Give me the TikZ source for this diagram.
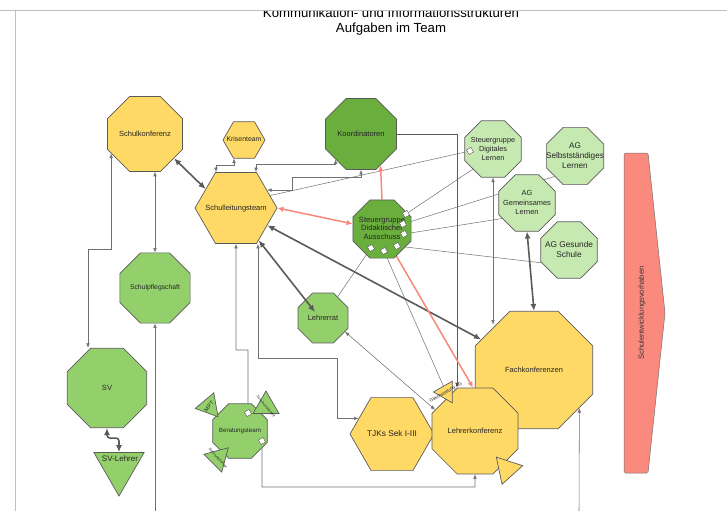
\documentclass[tikz,border=0pt]{standalone}
\usepackage{fontspec}
\setmainfont{Liberation Sans}
\usepackage{graphicx}
\usetikzlibrary{shapes.geometric,arrows.meta,calc}

\definecolor{cyel}{HTML}{FFD966}
\definecolor{cdgreen}{HTML}{6AAE3E}
\definecolor{cmgreen}{HTML}{93D06B}
\definecolor{clgreen}{HTML}{C6E8B1}
\definecolor{csalmon}{HTML}{FA8A7E}
\definecolor{cred}{HTML}{F7897B}
\definecolor{cline}{HTML}{5A5A5A}
\definecolor{carrow}{HTML}{707070}

\pgfdeclarelayer{bg}
\pgfsetlayers{bg,main}

% centred text that does not make the shape grow
\newcommand{\lbl}[1]{\makebox[0pt]{\smash{\raisebox{-0.3em}{\begin{tabular}{@{}c@{}}#1\end{tabular}}}}}
\newcommand{\fs}[2]{\fontsize{#1}{#2}\selectfont}

\tikzset{
  nodebox/.style={draw=cline, line width=0.7pt, inner sep=0pt, text=black!85, font=\fs{7.5}{9}},
  octo/.style={nodebox, regular polygon, regular polygon sides=8, minimum size=#1},
  hexa/.style={nodebox, regular polygon, regular polygon sides=6, minimum size=#1},
  tri/.style={nodebox, regular polygon, regular polygon sides=3, minimum size=#1},
  yelbox/.style={fill=cyel},
  dgbox/.style={fill=cdgreen},
  mgbox/.style={fill=cmgreen},
  lgbox/.style={fill=clgreen},
  port/.style={draw=cline, line width=0.4pt, fill=white, rectangle, rotate=30, minimum size=5.2pt, inner sep=0pt},
  link/.style={draw=carrow, line width=0.55pt, {Latex[length=4.5pt,width=3.6pt]}-{Latex[length=4.5pt,width=3.6pt]}},
  tolink/.style={draw=carrow, line width=0.55pt, -{Latex[length=4.5pt,width=3.6pt]}},
  heavy/.style={draw=cline, line width=1.6pt, {Latex[length=7pt,width=6pt]}-{Latex[length=7pt,width=6pt]}},
  redlink/.style={draw=cred, line width=1.5pt, -{Latex[length=6pt,width=5.5pt]}},
  redboth/.style={redlink, {Latex[length=6pt,width=5.5pt]}-{Latex[length=6pt,width=5.5pt]}},
  plainline/.style={draw=carrow, line width=0.5pt},
}

\begin{document}
\begin{tikzpicture}[x=1pt,y=-1pt]
\useasboundingbox (0,0) rectangle (727,511);

% title, cut by the page edge
\node[font=\fs{13.2}{16}] (title1) at (391,13) {Kommunikation- und Informationsstrukturen};
\node[font=\fs{13.2}{16}] (title2) at (391,29.5) {Aufgaben im Team};
\fill[white] (0,0) rectangle (727,10);
\draw[black!25, line width=0.6pt] (0,10) -- (727,10);
\draw[black!25, line width=0.6pt] (15,10) -- (15,511);

% groups
\node[octo=81pt, yelbox] (sk) at (145,134) {\lbl{Schulkonferenz}};
\node[hexa=42pt, yelbox, font=\fs{6.9}{8}] (kt) at (244,140) {\lbl{Krisenteam}};
\node[octo=77pt, dgbox] (ko) at (361,134) {\lbl{Koordinatoren}};
\node[octo=61pt, lgbox, font=\fs{7.3}{9}] (sdl) at (493,149) {\lbl{Steuergruppe\\Digitales\\Lernen}};
\node[octo=62pt, lgbox, font=\fs{8.2}{10}] (asl) at (575,156) {\lbl{AG\\Selbstständiges\\Lernen}};
\node[octo=61pt, lgbox, font=\fs{7.4}{9.5}] (agl) at (527,203) {\lbl{AG\\Gemeinsames\\Lernen}};
\node[octo=61pt, lgbox, font=\fs{8.3}{10.5}] (ags) at (569,250) {\lbl{AG Gesunde\\Schule}};
\node[hexa=82pt, yelbox] (slt) at (236,208) {\lbl{Schulleitungsteam}};
\node[octo=63pt, dgbox, font=\fs{7.6}{8.4}] (sda) at (382,229) {\lbl{Steuergruppe\\Didaktischer\\Ausschuss}};
\node[octo=76pt, mgbox, font=\fs{6.8}{8}] (spf) at (155,288) {\lbl{Schulpflegschaft}};
\node[octo=54pt, mgbox] (lr) at (323,318) {\lbl{Lehrerrat}};
\node[octo=86pt, mgbox] (sv) at (107,388) {\lbl{SV}};
\node[tri=58pt, mgbox, shape border rotate=180] (svl) at (119,467) {};
\node[font=\fs{8}{9}, text=black!85] (svltxt) at (120,459) {SV-Lehrer};
\node[octo=127pt, yelbox] (fk) at (534,370) {\lbl{Fachkonferenzen}};
\node[hexa=84pt, yelbox, font=\fs{8.3}{10}] (tjk) at (392,434) {\lbl{TJKs Sek I-III}};
\node[octo=93pt, yelbox] (lk) at (475,431) {\lbl{Lehrerkonferenz}};
\node[tri=25pt, yelbox, shape border rotate=-30] (gst) at (446,392) {\lbl{\rotatebox[origin=c]{30}{\fs{4.6}{5}Gleichstellung AG}}};
\node[tri=32pt, yelbox, shape border rotate=42] (lkt) at (507,469) {};
\node[octo=59pt, mgbox, font=\fs{6.2}{7}] (bt) at (240,431) {\lbl{Beratungsteam}};
\node[tri=28pt, mgbox, shape border rotate=-20] (mpt) at (209,406) {\lbl{\rotatebox[origin=c]{48}{\fs{5.5}{6}MPT}}};
\node[tri=30pt, mgbox] (bts) at (266,406) {\lbl{\rotatebox[origin=c]{-50}{\fs{3.6}{4}Schulsozialarbeit}}};
\node[tri=29pt, mgbox, shape border rotate=-45] (btl) at (218,458) {\lbl{\rotatebox[origin=c]{-48}{\fs{3.6}{4}Beratungslehrer}}};

% Schulentwicklungsvorhaben
\draw[fill=csalmon, draw=carrow, line width=0.5pt, rounded corners=1.5pt]
  (624,153) -- (648,153) -- (665,313) -- (648,473) -- (624,473) -- cycle;
\node[rotate=90, font=\fs{7.5}{9}, text=black!80] (sev) at (642,313) {Schulentwicklungsvorhaben};

% ports
\node[port] (p1) at (406,214) {};
\node[port] (p2) at (403,224) {};
\node[port] (p3) at (404,234) {};
\node[port] (p4) at (397,246) {};
\node[port] (p5) at (384,251) {};
\node[port] (p6) at (371,248) {};
\node[port] (r1) at (470,151) {};
\node[port] (q1) at (248,413) {};
\node[port] (q2) at (262,441) {};

\coordinate (spfin) at (155,511);
\coordinate (fkin) at (579,511);

\begin{pgfonlayer}{bg}
% thin links
\draw[link] (sk.south -| spf.north) -- (spf.north);
\draw[link] (sk.210) -- ++(0,96) -| ([xshift=-19pt]sv.north);
\draw[link] ([xshift=-10pt]kt.south) -- ++(0,7) -| ([xshift=-20pt]slt.north);
\draw[link] ([xshift=20pt]slt.north) -- ++(0,-8) -| (ko.225);
\draw[link] (slt.30) -- ++(25,0) -- ++(0,-13) -| (ko.south);
\draw[link] ([xshift=22pt]slt.south) |- (337,358) |- (tjk.155);
\draw[link] (lr.-32) -- (lk.152);
\draw[link] (sdl.south) -- (sdl.south |- fk.130);
\draw[tolink] (q1) -- (248,350) -| (slt.south);
\draw[tolink] (q2) -- (262,487) -| (lk.south);
\draw[tolink] (spfin) -- (spf.south);
\draw[tolink] (fkin) -- (fk.-40);
\draw[draw=cline, line width=1pt, -{Latex[length=5pt,width=4pt]}] (ko.east) -| ([xshift=-18pt]lk.north);

% lines from the ports
\draw[plainline] (r1) -- (slt.20);
\draw[plainline] (p1) -- (sdl.225);
\draw[plainline] (p2) -- (asl.225);
\draw[plainline] (p3) -- (agl.212);
\draw[plainline] (p4) -- (ags.205);
\draw[plainline] (p5) -- (gst);
\draw[plainline] (p6) -- (lr);

% heavy links
\draw[heavy] (sk.-40) -- (slt.148);
\draw[heavy] (slt.-29) -- (fk.150);
\draw[heavy] (agl.south) -- (fk.north);
\draw[heavy, rounded corners=3pt] (sv.south) -- ++(0,10) -| (svl.north);

% red links
\draw[redboth] (slt.east) -- (sda.170);
\draw[redlink] (sda.north) -- (ko.-58);
\draw[redlink] (sda.-62) -- ([xshift=-2pt]lk.north);
\end{pgfonlayer}

\draw[heavy] (slt.-55) -- ([shift={(-8,-6)}]lr.center);
\end{tikzpicture}
\end{document}
